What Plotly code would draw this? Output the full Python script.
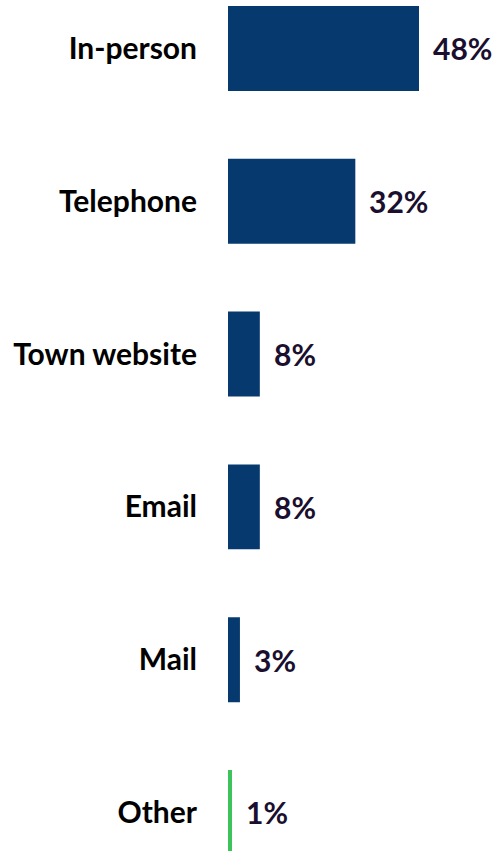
import plotly.graph_objects as go

# Contact methods and share of respondents (%)
categories = ["In-person", "Telephone", "Town website", "Email", "Mail", "Other"]
shares = [48, 32, 8, 8, 3, 1]
bar_colors = ["#063a6e", "#063a6e", "#063a6e", "#063a6e", "#063a6e", "#3cc35c"]

label_font = dict(family="Lato", size=30, color="#000000")
value_font = dict(family="Lato", size=30, color="#1a0f2e")

fig = go.Figure(
    go.Bar(
        x=shares,
        y=categories,
        orientation="h",
        marker=dict(color=bar_colors, line=dict(width=0)),
        width=0.556,
        hoverinfo="skip",
    )
)

# Percentage labels just past the end of each bar
for cat, val in zip(categories, shares):
    fig.add_annotation(
        x=val, y=cat, text=f"<b>{val}%</b>", showarrow=False,
        xanchor="left", yanchor="middle", xshift=12, font=value_font,
    )

fig.update_layout(
    width=495, height=851,
    margin=dict(l=228, r=0, t=0, b=0),
    paper_bgcolor="white", plot_bgcolor="white",
    showlegend=False,
    xaxis=dict(range=[0, 67.1], visible=False, fixedrange=True),
    yaxis=dict(
        type="category",
        categoryorder="array", categoryarray=categories,
        range=[5.252, -0.317],
        showgrid=False, zeroline=False, showline=False, ticks="",
        tickfont=label_font, ticklabelstandoff=30,
        tickvals=categories, ticktext=[f"<b>{c}</b>" for c in categories],
    ),
)

fig.write_html("out.html")
